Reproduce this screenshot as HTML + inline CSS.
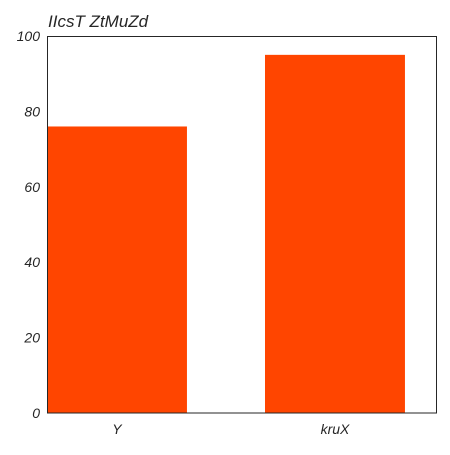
<!DOCTYPE html>
<html><head><meta charset="utf-8"><style>
html,body{margin:0;padding:0;background:#fff;}
svg text{font-family:"Liberation Sans",sans-serif;font-style:italic;fill:#262626;}
</style></head><body>
<svg id="chart" width="450" height="450" xmlns="http://www.w3.org/2000/svg">
<text x="48" y="27" font-size="17">IIcsT ZtMuZd</text>
<g id="bars"></g>
<g id="yticks"></g>
<g id="xticks"></g>
<rect x="47.5" y="36.5" width="389" height="376.5" fill="none" stroke="#262626" stroke-width="1"/>
</svg>
<script>
const categories = ["Y", "kruX"];
const values = [76, 95];
const yTickValues = [0, 20, 40, 60, 80, 100];

const plotLeft = 47, plotRight = 437, plotTop = 36, plotBottom = 413;
const xMin = -0.321, xMax = 1.468, barW = 0.642;
function xs(v){ return plotLeft + (v - xMin) / (xMax - xMin) * (plotRight - plotLeft); }
function ys(v){ return plotBottom - v / 100 * (plotBottom - plotTop); }
const ns = "http://www.w3.org/2000/svg";
const barsG = document.getElementById('bars');
const ytG = document.getElementById('yticks');
const xtG = document.getElementById('xticks');

categories.forEach((c, i) => {
  const r = document.createElementNS(ns, 'rect');
  r.setAttribute('x', xs(i - barW/2));
  r.setAttribute('width', xs(i + barW/2) - xs(i - barW/2));
  r.setAttribute('y', ys(values[i]));
  r.setAttribute('height', ys(0) - ys(values[i]));
  r.setAttribute('fill', '#ff4500');
  
  
  barsG.appendChild(r);
  const t = document.createElementNS(ns, 'text');
  t.setAttribute('x', xs(i));
  t.setAttribute('y', 434);
  t.setAttribute('text-anchor', 'middle');
  t.setAttribute('font-size', '14');
  t.textContent = c;
  
  
  xtG.appendChild(t);
});

yTickValues.forEach(v => {
  const t = document.createElementNS(ns, 'text');
  t.setAttribute('x', 40);
  t.setAttribute('y', ys(v) + 5);
  t.setAttribute('text-anchor', 'end');
  t.setAttribute('font-size', '14');
  t.textContent = v;
  
  
  ytG.appendChild(t);
});
</script>
</body></html>
